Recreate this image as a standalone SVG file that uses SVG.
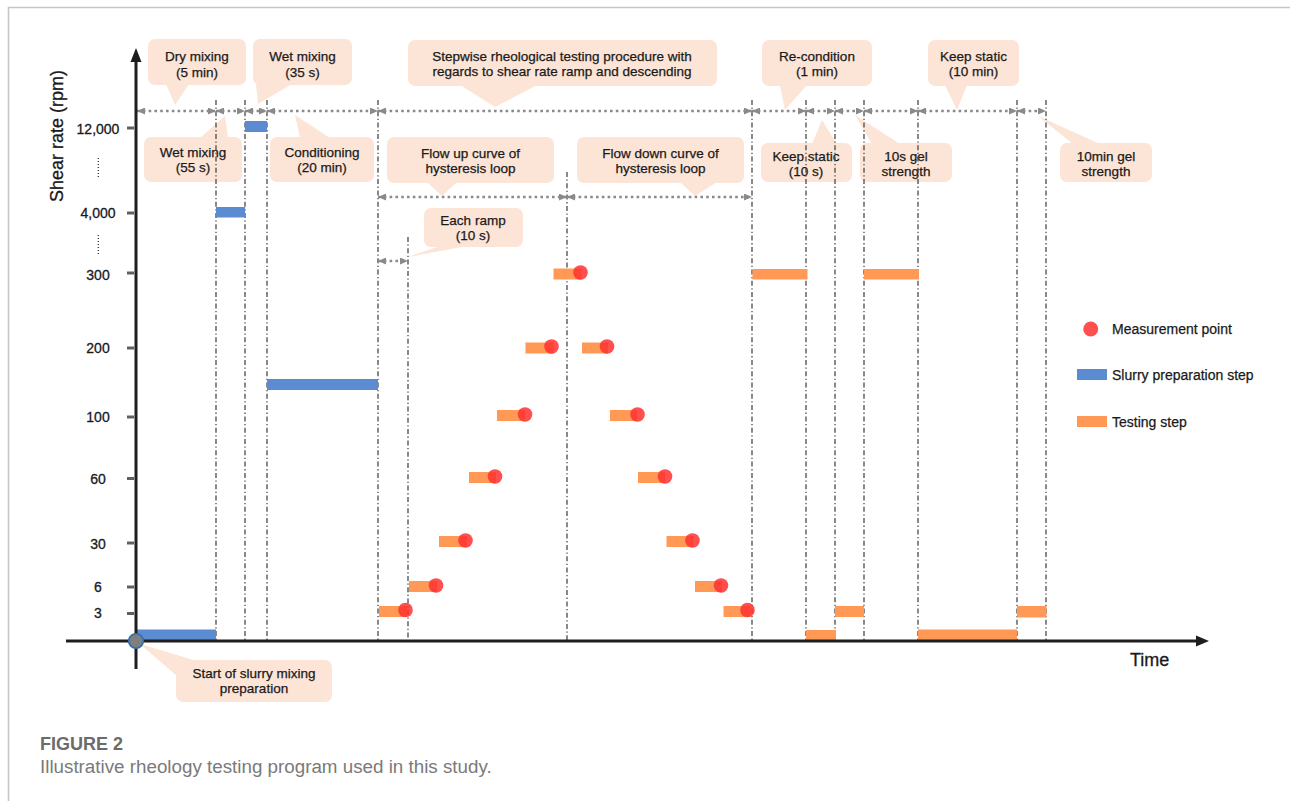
<svg xmlns="http://www.w3.org/2000/svg" width="1290" height="801" viewBox="0 0 1290 801">
<style>
.co{fill:#fce4d6}
.ct{font-family:"Liberation Sans",Arial,sans-serif;font-size:13.5px;fill:#1a1a1a;stroke:#1a1a1a;stroke-width:0.25;text-anchor:middle}
.tk{font-family:"Liberation Sans",Arial,sans-serif;font-size:14px;fill:#1a1a1a;stroke:#1a1a1a;stroke-width:0.3;text-anchor:middle}
.lg{font-family:"Liberation Sans",Arial,sans-serif;font-size:14px;fill:#1a1a1a;stroke:#1a1a1a;stroke-width:0.25}
.vl{stroke:#4a4a4a;stroke-width:1.3;stroke-dasharray:5 2.5 1.3 2.5;fill:none}
.da{stroke:#8a8a8a;stroke-width:2.6;stroke-dasharray:2.6 3.2;fill:none;marker-start:url(#ah);marker-end:url(#ah)}
.bl{fill:#5b8cd2}
.or{fill:#ff9955}
.rd{fill:#ff3030;fill-opacity:0.85}
.tm{stroke:#606060;stroke-width:3}
.ax{stroke:#1e1e1e;stroke-width:3;fill:none}
</style>
<defs>
<marker id="ah" viewBox="0 0 8 7" refX="8" refY="3.5" markerWidth="8" markerHeight="7" markerUnits="userSpaceOnUse" orient="auto-start-reverse"><path d="M0,0 L8,3.5 L0,7 z" fill="#8a8a8a"/></marker>
</defs>
<rect width="1290" height="801" fill="#ffffff"/>
<path d="M8.5,801 V7.5 H1290" fill="none" stroke="#c6c6c6" stroke-width="1.6"/>

<!-- callouts -->
<g id="n-dry"><rect class="co" x="148" y="39" width="98" height="46" rx="7"/><polygon class="co" points="166,84 175,105 189,84"/><text class="ct" x="197" y="61">Dry mixing</text><text class="ct" x="197" y="77">(5 min)</text></g>
<g id="n-wet35"><rect class="co" x="253" y="39" width="99" height="46" rx="7"/><polygon class="co" points="256,84 258,104 292,84"/><text class="ct" x="302.5" y="61">Wet mixing</text><text class="ct" x="302.5" y="77">(35 s)</text></g>
<g id="n-wet55"><rect class="co" x="144" y="137" width="98" height="45" rx="7"/><polygon class="co" points="200,138 225,116 228,138"/><text class="ct" x="193" y="157">Wet mixing</text><text class="ct" x="193" y="172">(55 s)</text></g>
<g id="n-cond"><rect class="co" x="270" y="137" width="104" height="45" rx="7"/><polygon class="co" points="300,138 295,115 330,138"/><text class="ct" x="322" y="157">Conditioning</text><text class="ct" x="322" y="172">(20 min)</text></g>
<g id="n-step"><rect class="co" x="408" y="40" width="309" height="46" rx="7"/><polygon class="co" points="460,85 495,107 537,85"/><text class="ct" x="562" y="60.5">Stepwise rheological testing procedure with</text><text class="ct" x="562" y="76">regards to shear rate ramp and descending</text></g>
<g id="n-up"><rect class="co" x="387" y="137" width="167" height="46" rx="7"/><polygon class="co" points="427,182 442,196 457,182"/><text class="ct" x="470.5" y="158">Flow up curve of</text><text class="ct" x="470.5" y="173">hysteresis loop</text></g>
<g id="n-down"><rect class="co" x="577" y="137" width="167" height="46" rx="7"/><polygon class="co" points="680,182 695,196 717,182"/><text class="ct" x="660.5" y="158">Flow down curve of</text><text class="ct" x="660.5" y="173">hysteresis loop</text></g>
<g id="n-ramp"><rect class="co" x="424" y="208" width="99" height="39" rx="7"/><polygon class="co" points="440,246 408,257 467,246"/><text class="ct" x="473" y="224.5">Each ramp</text><text class="ct" x="473" y="240">(10 s)</text></g>
<g id="n-recond"><rect class="co" x="762" y="40" width="110" height="46" rx="7"/><polygon class="co" points="780,85 785,110 807,85"/><text class="ct" x="817" y="60.5">Re-condition</text><text class="ct" x="817" y="76">(1 min)</text></g>
<g id="n-static10m"><rect class="co" x="928" y="40" width="91" height="46" rx="7"/><polygon class="co" points="945,85 957,110 967,85"/><text class="ct" x="973.5" y="60.5">Keep static</text><text class="ct" x="973.5" y="76">(10 min)</text></g>
<g id="n-static10s"><rect class="co" x="761" y="143" width="91" height="39" rx="7"/><polygon class="co" points="812,144 822,120 837,144"/><text class="ct" x="806" y="160.5">Keep static</text><text class="ct" x="806" y="175.5">(10 s)</text></g>
<g id="n-gel10s"><rect class="co" x="860" y="143" width="92" height="39" rx="7"/><polygon class="co" points="872,144 855,115 900,144"/><text class="ct" x="906" y="160.5">10s gel</text><text class="ct" x="906" y="175.5">strength</text></g>
<g id="n-gel10m"><rect class="co" x="1060" y="143" width="92" height="39" rx="7"/><polygon class="co" points="1073,144 1038,116 1100,144"/><text class="ct" x="1106" y="160.5">10min gel</text><text class="ct" x="1106" y="175.5">strength</text></g>
<g id="n-start"><rect class="co" x="176" y="660" width="156" height="42" rx="7"/><polygon class="co" points="140,644 197,661 177,676"/><text class="ct" x="254" y="678">Start of slurry mixing</text><text class="ct" x="254" y="693">preparation</text></g>

<!-- connectors: vertical guide lines and span arrows -->
<g id="connectors">
<line class="vl" x1="216" y1="100" x2="216" y2="641"/>
<line class="vl" x1="245" y1="100" x2="245" y2="641"/>
<line class="vl" x1="267" y1="100" x2="267" y2="641"/>
<line class="vl" x1="378" y1="100" x2="378" y2="641"/>
<line class="vl" x1="408" y1="237" x2="408" y2="641"/>
<line class="vl" x1="567" y1="172" x2="567" y2="641"/>
<line class="vl" x1="752" y1="100" x2="752" y2="641"/>
<line class="vl" x1="806" y1="100" x2="806" y2="641"/>
<line class="vl" x1="835" y1="100" x2="835" y2="641"/>
<line class="vl" x1="864" y1="100" x2="864" y2="641"/>
<line class="vl" x1="918" y1="100" x2="918" y2="641"/>
<line class="vl" x1="1017" y1="100" x2="1017" y2="641"/>
<line class="vl" x1="1046" y1="100" x2="1046" y2="641"/>

<line class="da" x1="137" y1="111" x2="216" y2="111"/>
<line class="da" x1="216" y1="111" x2="245" y2="111"/>
<line class="da" x1="245" y1="111" x2="267" y2="111"/>
<line class="da" x1="267" y1="111" x2="378" y2="111"/>
<line class="da" x1="378" y1="111" x2="752" y2="111"/>
<line class="da" x1="752" y1="111" x2="806" y2="111"/>
<line class="da" x1="806" y1="111" x2="835" y2="111"/>
<line class="da" x1="835" y1="111" x2="864" y2="111"/>
<line class="da" x1="864" y1="111" x2="918" y2="111"/>
<line class="da" x1="918" y1="111" x2="1017" y2="111"/>
<line class="da" x1="1017" y1="111" x2="1046" y2="111"/>
<line class="da" x1="378" y1="197" x2="567" y2="197"/>
<line class="da" x1="567" y1="197" x2="752" y2="197"/>
<line class="da" x1="378" y1="261" x2="408" y2="261"/>
</g>

<!-- bars -->
<g id="slurry-bars">
<rect class="bl" x="136" y="629.5" width="80" height="11.5"/>
<rect class="bl" x="216" y="207" width="29" height="10.5"/>
<rect class="bl" x="245" y="121" width="22" height="11"/>
<rect class="bl" x="267" y="379" width="111" height="11"/>
</g>
<g id="testing-bars">
<rect class="or" x="379" y="606" width="28" height="11"/>
<rect class="or" x="409" y="581" width="28" height="11"/>
<rect class="or" x="439" y="536" width="28" height="11"/>
<rect class="or" x="469" y="472" width="27" height="11"/>
<rect class="or" x="497" y="410" width="28" height="11"/>
<rect class="or" x="525.5" y="342.5" width="28" height="11"/>
<rect class="or" x="553.5" y="268.5" width="28" height="11"/>
<rect class="or" x="582" y="342.5" width="26" height="11"/>
<rect class="or" x="610" y="410" width="27" height="11"/>
<rect class="or" x="638" y="472" width="27" height="11"/>
<rect class="or" x="666.5" y="536" width="27" height="11"/>
<rect class="or" x="695" y="581" width="27" height="11"/>
<rect class="or" x="723.5" y="606" width="27" height="11"/>
<rect class="or" x="752.5" y="269" width="55" height="10.5"/>
<rect class="or" x="864" y="269" width="55" height="10.5"/>
<rect class="or" x="835" y="606" width="29" height="11"/>
<rect class="or" x="1017" y="606" width="29.5" height="11.5"/>
<rect class="or" x="806" y="630" width="30" height="11"/>
<rect class="or" x="918" y="629.5" width="99" height="11.5"/>
</g>
<g id="measurement-points">
<circle class="rd" cx="405.5" cy="610" r="7.3"/>
<circle class="rd" cx="436" cy="585.5" r="7.3"/>
<circle class="rd" cx="465.5" cy="540.5" r="7.3"/>
<circle class="rd" cx="495" cy="476.5" r="7.3"/>
<circle class="rd" cx="525" cy="414.5" r="7.3"/>
<circle class="rd" cx="551.5" cy="346.5" r="7.3"/>
<circle class="rd" cx="580.5" cy="272.5" r="7.3"/>
<circle class="rd" cx="607" cy="346.5" r="7.3"/>
<circle class="rd" cx="637.5" cy="414.5" r="7.3"/>
<circle class="rd" cx="665" cy="476.5" r="7.3"/>
<circle class="rd" cx="692.5" cy="540.5" r="7.3"/>
<circle class="rd" cx="721" cy="585.5" r="7.3"/>
<circle class="rd" cx="747.5" cy="610" r="7.3"/>
</g>

<!-- axes -->
<g id="axes">
<line class="ax" x1="136" y1="60" x2="136" y2="669"/>
<polygon points="136,48 130.5,62 141.5,62" fill="#1e1e1e"/>
<line class="ax" x1="66" y1="641" x2="1198" y2="641"/>
<polygon points="1209,641 1196,635.5 1196,646.5" fill="#1e1e1e"/>
<circle cx="136" cy="641" r="7.3" fill="#7f7f7f" stroke="#2f6db0" stroke-width="1.6"/>
<line class="tm" x1="127" y1="128" x2="134" y2="128"/>
<line class="tm" x1="127" y1="213" x2="134" y2="213"/>
<line class="tm" x1="127" y1="273" x2="134" y2="273"/>
<line class="tm" x1="127" y1="348" x2="134" y2="348"/>
<line class="tm" x1="127" y1="417" x2="134" y2="417"/>
<line class="tm" x1="127" y1="478.5" x2="134" y2="478.5"/>
<line class="tm" x1="127" y1="543" x2="134" y2="543"/>
<line class="tm" x1="127" y1="587" x2="134" y2="587"/>
<line class="tm" x1="127" y1="613.5" x2="134" y2="613.5"/>
<text class="tk" x="98" y="134">12,000</text>
<text class="tk" x="98" y="218">4,000</text>
<text class="tk" x="98" y="280">300</text>
<text class="tk" x="98" y="353">200</text>
<text class="tk" x="98" y="422">100</text>
<text class="tk" x="98" y="484">60</text>
<text class="tk" x="98" y="549">30</text>
<text class="tk" x="98" y="592">6</text>
<text class="tk" x="98" y="618">3</text>
<line x1="98.3" y1="158" x2="98.3" y2="178" stroke="#333" stroke-width="1.3" stroke-dasharray="1 2"/>
<line x1="98.3" y1="235" x2="98.3" y2="256" stroke="#333" stroke-width="1.3" stroke-dasharray="1 2"/>
<text x="63" y="136" transform="rotate(-90 63 136)" text-anchor="middle" font-family="Liberation Sans, Arial, sans-serif" font-size="18" fill="#1a1a1a" stroke="#1a1a1a" stroke-width="0.3">Shear rate (rpm)</text>
<text x="1130" y="666" font-family="Liberation Sans, Arial, sans-serif" font-size="18" fill="#1a1a1a" stroke="#1a1a1a" stroke-width="0.3">Time</text>
</g>

<!-- legend -->
<g id="legend">
<circle class="rd" cx="1090.7" cy="329" r="7.5"/>
<text class="lg" x="1112" y="334">Measurement point</text>
<rect class="bl" x="1077" y="369" width="30" height="11"/>
<text class="lg" x="1112" y="380">Slurry preparation step</text>
<rect class="or" x="1077" y="416" width="30" height="11"/>
<text class="lg" x="1112" y="427">Testing step</text>
</g>

<!-- caption -->
<text x="40" y="749.5" font-family="Liberation Sans, Arial, sans-serif" font-size="18" font-weight="bold" fill="#6b6b6b">FIGURE 2</text>
<text x="40" y="773" font-family="Liberation Sans, Arial, sans-serif" font-size="18.8" fill="#7a7a7a">Illustrative rheology testing program used in this study.</text>
</svg>
